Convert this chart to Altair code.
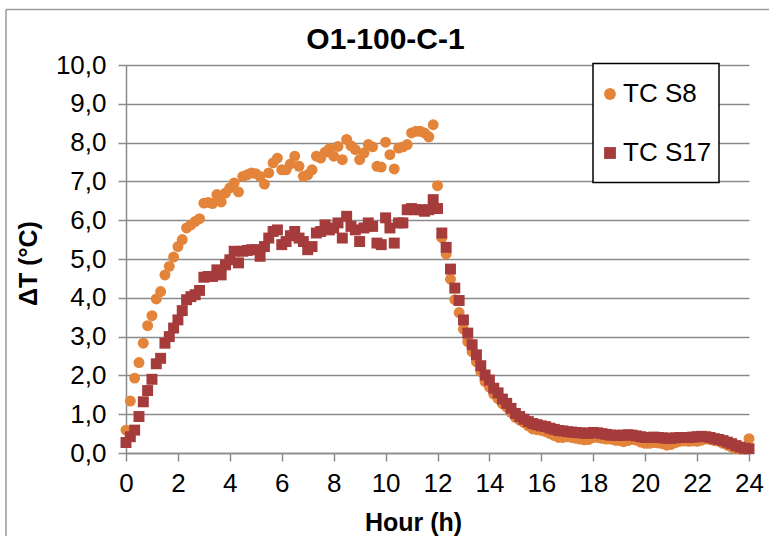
import altair as alt
import pandas as pd

# sampling: one reading every 10 minutes, 0 h .. 24 h
STEP_H = 1 / 6
series_names = ["TC S8", "TC S17"]

tc_s8 = [
    0.59, 1.34, 1.93, 2.33, 2.83, 3.28, 3.54, 3.97, 4.16, 4.59, 4.81, 5.05, 5.32, 5.50, 5.80, 5.88,
    5.97, 6.04, 6.44, 6.46, 6.43, 6.66, 6.47, 6.70, 6.83, 6.96, 6.73, 7.13, 7.17, 7.22, 7.20,
    7.13, 6.93, 7.22, 7.48, 7.60, 7.30, 7.30, 7.45, 7.65, 7.39, 7.13, 7.17, 7.30, 7.65, 7.60, 7.75,
    7.84, 7.65, 7.90, 7.56, 8.08, 7.92, 7.82, 7.56, 7.73, 7.95, 7.89, 7.39, 7.37, 8.01, 7.69, 7.32,
    7.86, 7.89, 7.95, 8.25, 8.29, 8.29, 8.25, 8.15, 8.46, 6.89,
    5.55, 5.13, 4.48, 3.95, 3.62, 3.19, 2.87, 2.61, 2.35, 2.10, 1.84, 1.70, 1.52, 1.40, 1.27, 1.18,
    1.05, 0.92, 0.85, 0.78, 0.70, 0.62, 0.60, 0.58,
    0.55, 0.50, 0.45, 0.40, 0.40, 0.42, 0.40, 0.38, 0.36, 0.34, 0.35, 0.40, 0.40, 0.38, 0.36, 0.36,
    0.33, 0.32, 0.29, 0.32, 0.35, 0.33, 0.28, 0.25, 0.25, 0.27, 0.26, 0.24, 0.20, 0.22, 0.27, 0.30,
    0.31, 0.30, 0.31, 0.30, 0.33, 0.36, 0.35, 0.32, 0.30, 0.25, 0.20, 0.15, 0.12, 0.10, 0.10, 0.37,
]

tc_s17 = [
    0.27, 0.42, 0.59, 0.94, 1.32, 1.61, 1.90, 2.30, 2.44, 2.83, 3.00, 3.22, 3.43, 3.67, 3.95, 4.03,
    4.08, 4.19, 4.53, 4.55, 4.55, 4.72, 4.59, 4.85, 4.98, 5.20, 4.90, 5.20, 5.22, 5.24, 5.24, 5.07,
    5.32, 5.54, 5.71, 5.75,
    5.37, 5.45, 5.60, 5.71, 5.54, 5.45, 5.24, 5.32, 5.67, 5.71, 5.88, 5.75, 5.80, 5.93, 5.54, 6.10,
    5.84, 5.75, 5.45, 5.80, 5.93, 5.84, 5.41, 5.37, 6.06, 5.80, 5.41, 5.93, 5.93, 6.27, 6.30, 6.27,
    6.27, 6.23, 6.27, 6.53, 6.30,
    5.67, 5.30, 4.74, 4.25, 3.93, 3.43, 3.09, 2.79, 2.53, 2.25, 2.01, 1.88, 1.67, 1.55, 1.39, 1.28,
    1.15, 1.02, 0.94, 0.87, 0.81, 0.76, 0.73, 0.70,
    0.68, 0.64, 0.61, 0.58, 0.57, 0.55, 0.54, 0.53, 0.52, 0.51, 0.51, 0.53, 0.52, 0.50, 0.48, 0.46,
    0.46, 0.45, 0.46, 0.47, 0.46, 0.44, 0.42, 0.40, 0.40, 0.41, 0.40, 0.39, 0.38, 0.38, 0.39, 0.40,
    0.40, 0.40, 0.41, 0.42, 0.43, 0.42, 0.40, 0.37, 0.35, 0.32, 0.28, 0.24, 0.19, 0.15, 0.12, 0.11,
]

x_ticks = list(range(0, 25, 2))
y_ticks = list(range(0, 11))

rows = []
for name, vals in zip(series_names, [tc_s8, tc_s17]):
    for i, v in enumerate(vals):
        rows.append({"hour": round(i * STEP_H, 4), "dT": v, "series": name})
df = pd.DataFrame(rows)

FONT = "Liberation Sans"
GRID = "#8a8a8a"
W, H = 623, 388

leg = alt.Legend(title=None, orient="none", legendX=471, legendY=16,
                 labelFontSize=26, labelFont=FONT, labelColor="black",
                 symbolSize=140, rowPadding=33, labelOffset=0, padding=0,
                 symbolStrokeWidth=0)

points = alt.Chart(df).mark_point(filled=True, opacity=1, size=120).encode(
    x=alt.X("hour:Q", scale=alt.Scale(domain=[0, 24], nice=False, zero=False),
            axis=alt.Axis(values=x_ticks, grid=False, title="Hour (h)", labelFlush=False,
                          titleX=287, titleY=69, titleBaseline="middle", titleAlign="center",
                          tickSize=8, labelPadding=9)),
    y=alt.Y("dT:Q", scale=alt.Scale(domain=[0, 10], nice=False),
            axis=alt.Axis(values=y_ticks, grid=True, title="ΔT (°C)", labelFlush=False,
                          labelExpr="replace(format(datum.value, '.1f'), '.', ',')",
                          titleX=-98, titleY=198, titleBaseline="middle", titleAlign="center",
                          titleAngle=270, tickSize=8, labelPadding=12)),
    color=alt.Color("series:N", scale=alt.Scale(domain=series_names, range=["#E3843A", "#A53B3B"]),
                    legend=leg),
    shape=alt.Shape("series:N", scale=alt.Scale(domain=series_names, range=["circle", "square"]),
                    legend=leg),
    order=alt.Order("order:Q"),
).transform_calculate(order="datum.series == 'TC S8' ? 0 : 1")

# legend frame (decorative)
legend_box = alt.Chart(df).mark_rect(fill="white", stroke="black", strokeWidth=1.5).encode(
    x=alt.value(467), x2=alt.value(593), y=alt.value(-1.5), y2=alt.value(117.5)
).transform_filter("datum.hour == 0 && datum.series == 'TC S8'")

# outer chart-area border (decorative)
border_top = alt.Chart(df).mark_rule(color="#9a9a9a", strokeWidth=1.5).encode(
    x=alt.value(-120), x2=alt.value(700), y=alt.value(-55.5)
).transform_filter("datum.hour == 0 && datum.series == 'TC S8'")
border_left = alt.Chart(df).mark_rule(color="#9a9a9a", strokeWidth=1.5).encode(
    x=alt.value(-120), y=alt.value(-55.5), y2=alt.value(520)
).transform_filter("datum.hour == 0 && datum.series == 'TC S8'")

chart = alt.layer(border_top, border_left, points, legend_box).properties(
    width=W, height=H,
    autosize=alt.AutoSizeParams(type="none"),
    padding={"left": 126, "top": 65, "right": 20, "bottom": 83},
    background="white",
    title=alt.TitleParams("O1-100-C-1", anchor="middle", font=FONT, fontSize=30,
                          fontWeight="bold", color="black", dx=-52, dy=46, offset=0),
).configure_view(stroke=None).configure_axis(
    domainColor=GRID, domainWidth=1.5, tickColor=GRID, tickWidth=1.5,
    gridColor=GRID, gridWidth=1.5, labelFont=FONT, labelFontSize=26, labelColor="black",
    titleFont=FONT, titleFontSize=25, titleFontWeight="bold", titleColor="black",
)

chart.save("out.html", embed_options={"renderer": "svg", "actions": False})
